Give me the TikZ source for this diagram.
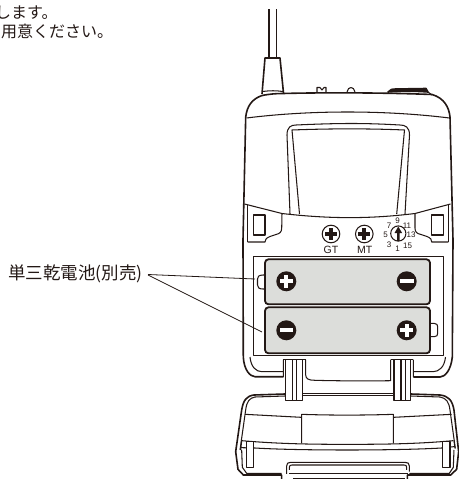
\documentclass[tikz,border=0pt]{standalone}
\usepackage{fontspec}
\newfontfamily\cjkf{Noto Sans CJK JP}
\setsansfont{Liberation Sans}
\definecolor{ink}{HTML}{231815}
\definecolor{batt}{HTML}{DCDDDA}
\tikzset{
  outline/.style={draw=ink,line width=1.6pt,line join=round},
  thinl/.style={draw=ink,line width=1.05pt,line join=round},
  hair/.style={draw=ink,line width=0.8pt},
  battery/.style={draw=ink,fill=batt,line width=1.8pt,rounded corners=3.5pt},
  label/.style={text=ink,inner sep=0pt},
  dialnum/.style={font=\sffamily\fontsize{8}{8}\selectfont,text=ink,inner sep=0pt},
  screwtxt/.style={font=\sffamily\fontsize{10.5}{11}\selectfont,text=ink,inner sep=0pt},
}
\newcommand{\plusmark}[1]{%
  \fill[ink] (#1) circle (10);
  \fill[white] ($(#1)+(-6.6,-1.9)$) rectangle ($(#1)+(6.6,1.9)$);
  \fill[white] ($(#1)+(-1.9,-6.6)$) rectangle ($(#1)+(1.9,6.6)$);}
\newcommand{\minusmark}[1]{%
  \fill[ink] (#1) circle (10);
  \fill[white] ($(#1)+(-6.8,-1.9)$) rectangle ($(#1)+(6.8,1.9)$);}
\newcommand{\screwmark}[1]{%
  \draw[thinl,fill=white] (#1) circle (8.8);
  \fill[ink] ($(#1)+(-6,-2)$) rectangle ($(#1)+(6,2)$);
  \fill[ink] ($(#1)+(-2,-6)$) rectangle ($(#1)+(2,6)$);}
\usetikzlibrary{calc}
\begin{document}
\begin{tikzpicture}[x=1pt,y=-1pt]
\useasboundingbox (0,0) rectangle (458,479);
% ---- caption texts
\node[label,font=\cjkf\fontsize{16}{17}\selectfont,anchor=west] (t1) at (-5,13) {します。};
\node[label,font=\cjkf\fontsize{16}{17}\selectfont,anchor=west] (t2) at (1,31) {用意ください。};
\node[label,font=\cjkf\fontsize{17.5}{19}\selectfont,anchor=west] (bl) at (8,274) {単三乾電池(別売)};
\coordinate (p1) at (255,279);
\coordinate (p2) at (262,332);
\draw[hair] (148,274.5) -- (p1);
\draw[hair] (148,275) -- (p2);
% ---- antenna
\draw[outline] (269,9) -- (269,58);
\draw[outline] (276.5,9) -- (276.5,58);
\draw[outline] (262,94) -- (265,58) -- (280,58) -- (283.5,93);
\draw[thinl] (262.5,91.5) .. controls (270,90.5) and (276,90.5) .. (283,91.5);
% ---- top switches
\draw[thinl] (317,92) -- (317,87.5) -- (320,87.5) -- (322,90) -- (324,87.5) -- (326,87.5) -- (326,92);
\draw[thinl] (347,92) .. controls (348,86) and (354,86) .. (355,92);
\draw[outline,fill=ink] (388,92) .. controls (390,89.5) and (392,89) .. (396,89) -- (426,88.5) -- (428,92) .. controls (415,91) and (400,91) .. (388,92) -- cycle;
\draw[thinl] (428,92) -- (432,95);
% ---- body
\draw[outline] (262,95.5) .. controls (270,94) and (276,93.5) .. (283,93.5)
  .. controls (320,92.5) and (380,92.5) .. (432,94.5)
  .. controls (444,98) and (449,107) .. (450,117)
  -- (453,240) -- (452.3,357)
  .. controls (451,370) and (445,377) .. (440,377) -- (413.3,377);
\draw[outline] (262,95.5) .. controls (252,99) and (247,106) .. (245.7,117)
  -- (243,240) -- (243.3,357)
  .. controls (244,370) and (250,376.5) .. (255,376.7) -- (283.3,376.7);
\draw[thinl] (246.5,118) .. controls (310,110) and (385,110) .. (449.5,118);
% inner lines of the shell
\draw[thinl] (247.7,205) -- (247.7,242);
\draw[thinl] (448.3,205) -- (448.3,242);
\draw[thinl] (250,357) .. controls (251,367) and (256,371.7) .. (262,371.7) -- (283.3,371.7);
\draw[thinl] (445.5,357) .. controls (444.5,367) and (439,371.7) .. (433,371.7) -- (413.3,371.7);
% ---- display window
\draw[thinl] (290,214) -- (287,135) .. controls (287,127) and (291,125) .. (296,125)
  .. controls (340,123) and (365,123) .. (400,125)
  .. controls (405,125) and (409.5,127) .. (409.5,135) -- (405,214);
\draw[thinl] (299.5,214) -- (292,130) .. controls (330,128.5) and (370,128.5) .. (404.5,130) -- (396.7,214);
% ---- lower panel top edge
\draw[thinl] (244.5,204) -- (282,213.5) .. controls (330,219) and (370,219) .. (415,213.5) -- (450.5,204);
% corner panels
\draw[thinl] (282,213.5) -- (281.7,228.3) .. controls (281.5,232) and (280,233.5) .. (276,234.5)
  -- (270,236.5) .. controls (266,238) and (265,240) .. (265,242) -- (247.7,242);
\draw[thinl] (415,213.5) -- (415,228.3) .. controls (415.2,232) and (416.5,233.5) .. (421,234.5)
  -- (427,236.5) .. controls (431,238) and (431.7,240) .. (431.7,242) -- (448.3,242);
\draw[thinl] (253.3,215) rectangle (265,235);
\draw[thinl] (431.7,215) rectangle (443.3,235);
% ---- screws and dial
\coordinate (gt) at (331,234);
\coordinate (mt) at (364.3,234);
\screwmark{gt}
\screwmark{mt}
\node[screwtxt] (gtl) at (331,250) {GT};
\node[screwtxt] (mtl) at (364.7,250) {MT};
\draw[thinl] (398.3,233.5) circle (7.6);
\fill[ink] (397,241) -- (397,233) -- (394.5,233) -- (398.3,226.5) -- (402.1,233) -- (399.7,233) -- (399.7,241) -- cycle;
\node[dialnum] (d9) at (397.7,220.7) {9};
\node[dialnum] (d7) at (389,226) {7};
\node[dialnum] (d11) at (407,225.5) {11};
\node[dialnum] (d5) at (385.5,235) {5};
\node[dialnum] (d13) at (411,235) {13};
\node[dialnum] (d3) at (389,245) {3};
\node[dialnum] (d1) at (397.7,248.5) {1};
\node[dialnum] (d15) at (407.5,245.5) {15};
% ---- battery compartment
\draw[thinl,line width=0.8pt] (253.3,256.7) rectangle (443.3,355);
\draw[thinl,fill=white] (272,275) -- (263,275) .. controls (258.5,275) and (257.5,277) .. (257.5,279)
  -- (257.5,285) .. controls (257.5,287.5) and (259,289) .. (263,289) -- (272,289);
\draw[thinl,fill=white] (428,323.3) -- (434,323.3) .. controls (437,323.3) and (437.7,325) .. (437.7,327)
  -- (437.7,333) .. controls (437.7,335.5) and (437,336.7) .. (434,336.7) -- (428,336.7);
\path[battery] (265,259.3) rectangle (430,304.3);
\path[battery] (265,307.3) rectangle (430,353.3);
\plusmark{286.3,281.3}
\minusmark{406.7,281.3}
\minusmark{286.3,330.3}
\plusmark{406.7,330.3}
% ---- hinges
\draw[thinl] (283.3,359.5) -- (283.3,377) (305.7,359.5) -- (305.7,375)
  .. controls (305.7,379) and (309,380.3) .. (315,380.3)
  .. controls (340,381) and (370,381) .. (390.7,380.7)
  -- (390.7,359.5) (413.3,359.5) -- (413.3,377);
\draw[thinl,fill=white] (285.5,359.5) -- (285.5,400.5) -- (302.5,400.5) -- (302.5,359.5) -- cycle;
\draw[thinl,fill=white] (394,359.5) -- (394,400.5) -- (410.7,400.5) -- (410.7,359.5) -- cycle;
\draw[thinl] (292.5,359.5) -- (292.5,400.5) (296.7,359.5) -- (296.7,400.5);
\draw[thinl] (401,359.5) -- (401,400.5) (405.3,359.5) -- (405.3,400.5);
\draw[outline] (283.3,359.5) -- (305.7,359.5);
\draw[outline] (390.7,359.5) -- (413.3,359.5);
% ---- door (drawn in 3x crop units)
\begin{scope}[shift={(230,380)},x=0.3333pt,y=-0.3333pt]
\draw[thinl] (218,40) -- (492,40);
\draw[outline] (218,46) -- (492,46);
\draw[outline] (165,42) -- (72,45) .. controls (50,48) and (40,60) .. (35,90) -- (17,215) -- (24,268) -- (40,285) -- (155,285) -- (155,297);
\draw[outline] (542,42) -- (630,45) .. controls (655,48) and (667,60) .. (672,90) -- (686,215) -- (680,268) -- (662,285) -- (532,285) -- (532,297);
\draw[thinl] (165,48) -- (75,51) .. controls (58,54) and (50,65) .. (47,90) -- (30,210);
\draw[thinl] (542,48) -- (630,51) .. controls (648,54) and (657,65) .. (660,90) -- (676,205);
\draw[thinl] (45,103) -- (215,112) (490,112) -- (665,103);
\draw[thinl] (215,190) -- (215,103) .. controls (300,106) and (400,106) .. (490,103) -- (490,190);
\draw[thinl] (35,182) .. controls (150,192) and (250,193) .. (350,193) .. controls (460,193) and (560,192) .. (670,182);
\draw[thinl] (32,203) -- (75,204) .. controls (200,212) and (500,212) .. (635,204) -- (672,200);
\draw[thinl,fill=white] (50,185) rectangle (70,262);
\draw[thinl,fill=white] (638,185) rectangle (660,262);
\draw[thinl] (35,182) -- (32,210) (35,210) -- (37,262) -- (50,280) -- (155,280);
\draw[thinl] (672,182) -- (675,205) (672,210) -- (670,262) -- (658,280) -- (538,280);
\draw[thinl] (170,282) -- (170,258) .. controls (170,250) and (174,247) .. (182,247) -- (525,247) .. controls (534,247) and (538,250) .. (538,258) -- (538,275);
\draw[thinl] (178,270) -- (178,262) .. controls (178,257) and (181,255) .. (186,255) -- (522,255) .. controls (528,255) and (530,257) .. (530,262) -- (530,270);
\draw[outline] (178,281) -- (535,281);
\draw[outline] (190,295) -- (525,295);
\end{scope}
\end{tikzpicture}
\end{document}
